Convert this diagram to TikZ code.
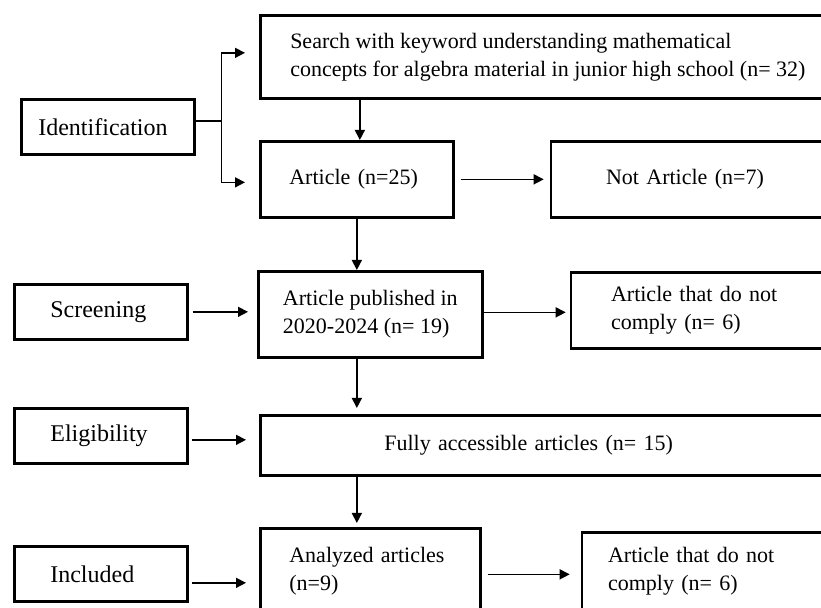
\documentclass[tikz,border=0pt]{standalone}
\usepackage{fontspec}
\setmainfont{Liberation Serif}
\usetikzlibrary{arrows.meta,positioning}

\begin{document}
\begin{tikzpicture}[x=0.5pt, y=-0.5pt,
    box/.style={draw, line width=1.35pt, anchor=north west, align=left, inner sep=0pt, font=\fontsize{11}{14}\selectfont},
    sidebox/.style={draw, line width=1.35pt, align=left, inner sep=0pt, font=\fontsize{11}{14}\selectfont},
    stage/.style={draw, line width=1.35pt, anchor=north west, align=left, inner sep=0pt, minimum width=86.5pt, minimum height=27.5pt, text width=50.5pt, font=\fontsize{12}{14}\selectfont},
    arr/.style={-{Triangle[length=5pt, width=5pt]}, line width=0.75pt}]
    \useasboundingbox (0,0) rectangle (821,608);
    \clip (0,0) rectangle (821,608);
    % stages on the left
    \node[stage, text width=69.5pt] (ident) at (20,98) {Identification};
    \node[stage] (screen) at (13,283) {Screening};
    \node[stage] (elig) at (13,407) {Eligibility};
    \node[stage] (incl) at (13,545) {Included};
    % main column
    \node[box, minimum width=287.5pt, minimum height=41.5pt] (search) at (259,14) {Search with keyword understanding mathematical\\concepts for algebra material in junior high school (n= 32)};
    \node[box, minimum width=96.5pt, minimum height=38pt, text width=67.5pt] (art) at (259,140) {Article (n=25)};
    \node[box, minimum width=112pt, minimum height=43pt] (pub) at (257,270) {Article published in\\2020-2024 (n= 19)};
    \node[box, minimum width=287.5pt, minimum height=30pt, text width=163.5pt] (full) at (259,414) {Fully accessible articles (n= 15)};
    \node[box, minimum width=110pt, minimum height=43pt, text width=81pt] (ana) at (259,527) {Analyzed articles\\(n=9)};
    % excluded on the right
    \node[sidebox, right=47.5pt of art, minimum width=145pt, minimum height=38pt, text width=90pt] (notart) {Not Article (n=7)};
    \node[sidebox, right=43pt of pub, yshift=2pt, minimum width=135pt, minimum height=38pt, text width=95pt] (nc1) {Article that do not\\comply (n= 6)};
    \node[sidebox, right=49.5pt of ana, minimum width=130pt, minimum height=39pt, text width=104pt] (nc2) {Article that do not\\comply (n= 6)};
    % connectors
    \draw[arr, shorten >=7pt] (ident.east) ++(0,-6) -- ++(26,0) |- ([yshift=2pt]search.west);
    \draw[arr, shorten >=7pt] (ident.east) ++(26,-6) |- ([yshift=-1.5pt]art.west);
    \draw[arr] ([xshift=1.5pt]art.north |- search.south) -- ([xshift=1.5pt]art.north);
    \draw[arr, shorten <=3pt, shorten >=3pt] (art.east) -- (notart.west);
    \draw[arr] (art.south) -- (art.south |- pub.north);
    \draw[arr, shorten <=2pt, shorten >=4.5pt] (screen.east) -- (screen.east -| pub.west);
    \draw[arr, shorten >=2pt] ([yshift=1pt]pub.east) -- ([yshift=1pt]pub.east -| nc1.west);
    \draw[arr, shorten >=3pt] (art.south |- pub.south) -- (art.south |- full.north);
    \draw[arr, shorten <=1.5pt, shorten >=6.5pt] ([yshift=-2pt]elig.east) -- ([yshift=-2pt]elig.east -| full.west);
    \draw[arr, shorten >=2pt] (art.south |- full.south) -- (art.south |- ana.north);
    \draw[arr, shorten <=1.5pt, shorten >=6.5pt] ([yshift=-4.5pt]incl.east) -- ([yshift=-4.5pt]incl.east -| ana.west);
    \draw[arr, shorten <=3pt, shorten >=5.5pt] ([yshift=-1.5pt]ana.east) -- ([yshift=-1.5pt]ana.east -| nc2.west);
\end{tikzpicture}
\end{document}
